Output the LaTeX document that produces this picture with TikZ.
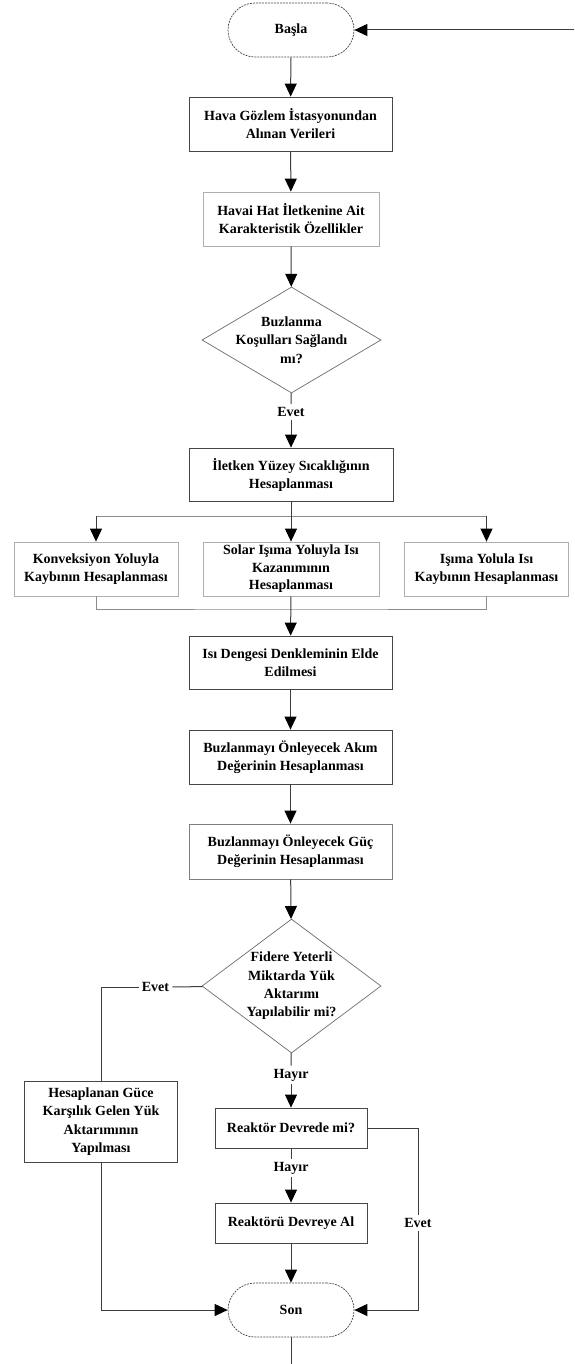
\documentclass[tikz,border=0pt]{standalone}
\usepackage{fontspec}
\setmainfont{Liberation Serif}
\usepackage{tikz}
\usetikzlibrary{shapes.geometric, arrows.meta, positioning}
\definecolor{mydark}{RGB}{70,70,70}
\definecolor{mygray}{RGB}{175,175,175}
\definecolor{myline}{RGB}{60,60,60}
\tikzset{
  block/.style={rectangle, draw=mydark, fill=white, align=center,
    inner sep=0pt, line width=0.8pt,
    font=\fontsize{14}{18}\selectfont\bfseries},
  lightblock/.style={block, draw=mygray},
  terminal/.style={rectangle, draw=mydark, rounded corners=27pt,
    minimum width=126pt, minimum height=54pt, line width=0.7pt,
    dash pattern=on 2pt off 1pt,
    font=\fontsize{14}{18}\selectfont\bfseries},
  decision/.style={diamond, draw=mydark!80, inner sep=0pt,
    line width=0.7pt},
  dtext/.style={align=center, inner sep=0pt,
    font=\fontsize{14}{18.3}\selectfont\bfseries},
  lbl/.style={inner sep=3pt, font=\fontsize{14}{18}\selectfont\bfseries},
  arrow/.style={-{Triangle[length=13pt,width=12pt,color=black]}, line width=1pt, color=myline},
  line/.style={line width=1pt, color=myline}
}
\begin{document}
\begin{tikzpicture}[x=1pt,y=-1pt]
  \useasboundingbox (0,0) rectangle (574,1364);

  % main column
  \node[terminal] (basla) at (291,30) {Başla};
  \node[block, minimum width=203pt, minimum height=54pt] (hava) at (290.5,124)
    {Hava Gözlem İstasyonundan\\Alınan Verileri};
  \node[lightblock, minimum width=176pt, minimum height=54pt] (havai) at (291,219)
    {Havai Hat İletkenine Ait\\Karakteristik Özellikler};
  \node[decision, minimum width=179pt, minimum height=106pt] (kosul) at (291.5,340) {};
  \node[dtext] (kosultxt) at (kosul) {Buzlanma\\Koşulları Sağlandı\\mı?};
  \node[lbl] (evet1) at (291,412) {Evet};
  \node[block, minimum width=204pt, minimum height=53pt] (iletken) at (291,474.5)
    {İletken Yüzey Sıcaklığının\\Hesaplanması};

  % three branches
  \node[lightblock, minimum width=164pt, minimum height=54pt] (konv) at (96,569)
    {Konveksiyon Yoluyla\\Kaybının Hesaplanması};
  \node[lightblock, minimum width=176pt, minimum height=54pt,
    font=\fontsize{14}{17.5}\selectfont\bfseries] (solar) at (291,569)
    {Solar Işıma Yoluyla Isı\\Kazanımının\\Hesaplanması};
  \node[lightblock, minimum width=164pt, minimum height=54pt] (isima) at (486.5,569)
    {Işıma Yolula Isı\\Kaybının Hesaplanması};
  \coordinate (br) at (291,516);
  \coordinate (brL) at (96,516);
  \coordinate (brR) at (486.5,516);
  \coordinate (mg) at (291,609);

  \node[block, minimum width=203pt, minimum height=53pt] (isi) at (290.5,662.5)
    {Isı Dengesi Denkleminin Elde\\Edilmesi};
  \node[block, minimum width=203pt, minimum height=54pt] (akim) at (290.5,757)
    {Buzlanmayı Önleyecek Akım\\Değerinin Hesaplanması};
  \node[block, draw=mydark!70, minimum width=203pt, minimum height=55pt] (guc) at (290.5,851.5)
    {Buzlanmayı Önleyecek Güç\\Değerinin Hesaplanması};
  \node[decision, minimum width=179pt, minimum height=134pt] (fidere) at (291.5,986) {};
  \node[dtext] (fideretxt) at (fidere) {Fidere Yeterli\\Miktarda Yük\\Aktarımı\\Yapılabilir mi?};

  % lower part
  \node[lbl] (evet2) at (155.5,987) {Evet};
  \node[block, minimum width=153pt, minimum height=81pt, font=\fontsize{14}{18.3}\selectfont\bfseries]
    (hesap) at (101,1121.5)
    {Hesaplanan Güce\\Karşılık Gelen Yük\\Aktarımının\\Yapılması};
  \node[lbl] (hayir1) at (291,1075) {Hayır};
  \node[block, minimum width=152pt, minimum height=40pt] (reaktor) at (291,1128)
    {Reaktör Devrede mi?};
  \node[lbl] (hayir2) at (291,1168) {Hayır};
  \node[block, minimum width=152pt, minimum height=40pt] (reaktoru) at (291,1223)
    {Reaktörü Devreye Al};
  \node[lbl] (evet3) at (418,1223) {Evet};
  \node[terminal] (son) at (291,1310) {Son};
  \coordinate (in) at (574,30);
  \coordinate (out) at (291,1364);

  % connectors
  \draw[arrow] (in) -- (basla);
  \draw[arrow] (basla) -- (hava);
  \draw[arrow] (hava) -- (havai);
  \draw[arrow] (havai) -- (kosul);
  \draw[line] (kosul) -- (evet1);
  \draw[arrow] (evet1) -- (iletken);
  \draw[line] (iletken) -- (br);
  \draw[line, color=mygray!80!black] (brL) -- (brR);
  \draw[arrow] (brL) -- (konv);
  \draw[arrow] (br) -- (solar);
  \draw[arrow] (brR) -- (isima);
  \draw[line, color=mygray!80!black] (konv) |- (mg) -| (isima);
  \draw[arrow] (solar) -- (isi);
  \draw[arrow] (isi) -- (akim);
  \draw[arrow] (akim) -- (guc);
  \draw[arrow] (guc) -- (fidere);
  \draw[line] (fidere) -- (evet2);
  \draw[line] (evet2) -| (hesap);
  \draw[arrow] (hesap) |- (son);
  \draw[line] (fidere) -- (hayir1);
  \draw[arrow] (hayir1) -- (reaktor);
  \draw[line] (reaktor) -- (hayir2);
  \draw[arrow] (hayir2) -- (reaktoru);
  \draw[line] (reaktor) -| (evet3);
  \draw[arrow] (evet3) |- (son);
  \draw[arrow] (reaktoru) -- (son);
  \draw[line] (son) -- (out);
\end{tikzpicture}
\end{document}
